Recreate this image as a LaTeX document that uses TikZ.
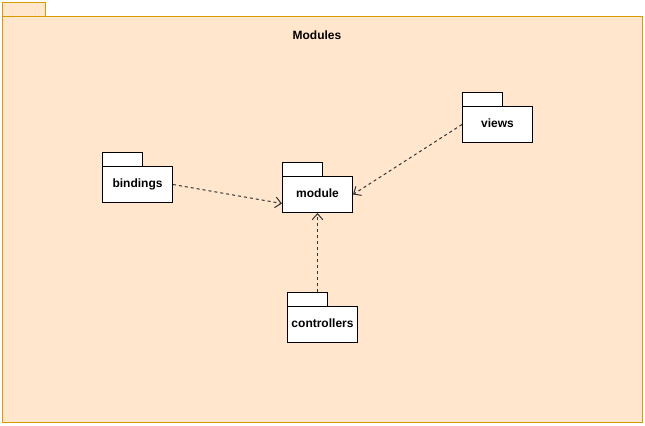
\documentclass[tikz,border=0pt]{standalone}
\usepackage{fontspec}
\setmainfont{Liberation Sans}
\usetikzlibrary{arrows.meta,calc}
\definecolor{pkgfill}{HTML}{FFE6CC}
\definecolor{pkgline}{HTML}{D79B00}
\definecolor{arr}{HTML}{333333}
\begin{document}
\begin{tikzpicture}[x=0.75pt,y=-0.75pt,line width=0.75pt,
  outerbox/.style={draw=pkgline,fill=pkgfill,line width=0.75pt},
  tabbox/.style={draw=black,fill=white,minimum width=30pt,minimum height=10.5pt,inner sep=0pt,anchor=north west},
  bodybox/.style={draw=black,fill=white,minimum width=52.5pt,minimum height=27pt,inner sep=0pt,text height=7pt,text depth=3pt,anchor=north west,font=\fontsize{9}{11}\selectfont\bfseries},
  dep/.style={draw=arr,dash pattern=on 2.25pt off 2.25pt,-{Straight Barb[length=4.5pt,width=8pt,line width=0.75pt]}}]
\useasboundingbox (0,0) rectangle (645,425);
% outer package
\node[outerbox,minimum width=32.25pt,minimum height=10.5pt,inner sep=0pt,anchor=north west] (otab) at (2,2) {};
\node[outerbox,minimum width=480pt,minimum height=304.5pt,inner sep=0pt,anchor=north west] (outer) at (2,16) {};
\node[font=\fontsize{9}{11}\selectfont\bfseries] (title) at (317,35) {Modules};
% bindings
\node[tabbox] (btab) at (102,152) {};
\node[bodybox] (bindings) at (102,166) {bindings};
% module
\node[tabbox] (mtab) at (282,162) {};
\node[bodybox] (module) at (282,176) {module};
% views
\node[tabbox] (vtab) at (462,92) {};
\node[bodybox] (views) at (462,106) {views};
% controllers
\node[tabbox] (ctab) at (287,292) {};
\node[bodybox] (controllers) at (287,306) {controllers};
% dependencies
\draw[dep] (bindings.east) -- ($(module.west)+(0,9)$);
\draw[dep] (views.west) -- (module.east);
\draw[dep] (ctab.north -| module.south) -- (module.south);
\end{tikzpicture}
\end{document}
